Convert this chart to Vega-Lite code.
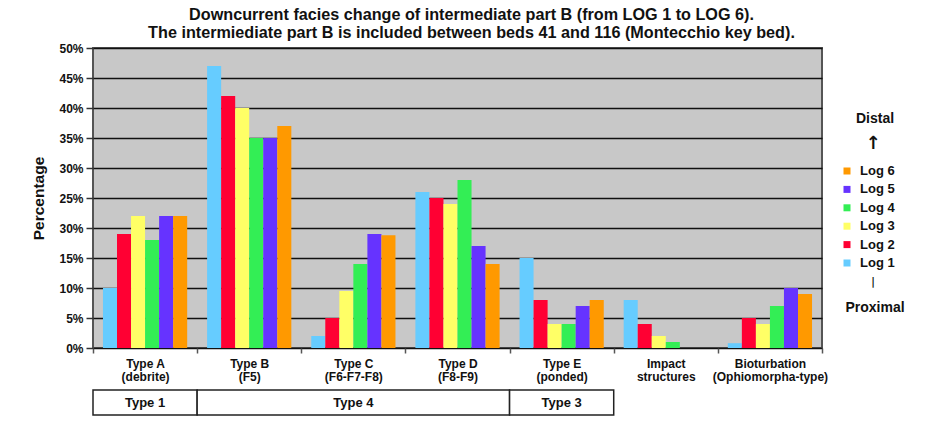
{
  "$schema": "https://vega.github.io/schema/vega-lite/v6.json",
  "padding": {"left": 30, "top": 7, "right": 10, "bottom": 6},
  "background": "white",
  "title": {
    "text": ["Downcurrent facies change of intermediate part B (from LOG 1 to LOG 6).", "The intermiediate part B is included between beds 41 and 116 (Montecchio key bed)."],
    "anchor": "middle",
    "font": "Liberation Sans",
    "fontSize": 16.2,
    "fontWeight": "bold",
    "lineHeight": 17.5,
    "color": "#111111",
    "offset": 0
  },
  "datasets": {
    "bars": [
      {"category": "Type A|(debrite)", "log": "Log 1", "value": 10},
      {"category": "Type A|(debrite)", "log": "Log 2", "value": 19},
      {"category": "Type A|(debrite)", "log": "Log 3", "value": 22},
      {"category": "Type A|(debrite)", "log": "Log 4", "value": 18},
      {"category": "Type A|(debrite)", "log": "Log 5", "value": 22},
      {"category": "Type A|(debrite)", "log": "Log 6", "value": 22},
      {"category": "Type B|(F5)", "log": "Log 1", "value": 47},
      {"category": "Type B|(F5)", "log": "Log 2", "value": 42},
      {"category": "Type B|(F5)", "log": "Log 3", "value": 40},
      {"category": "Type B|(F5)", "log": "Log 4", "value": 35},
      {"category": "Type B|(F5)", "log": "Log 5", "value": 35},
      {"category": "Type B|(F5)", "log": "Log 6", "value": 37},
      {"category": "Type C|(F6-F7-F8)", "log": "Log 1", "value": 2},
      {"category": "Type C|(F6-F7-F8)", "log": "Log 2", "value": 5},
      {"category": "Type C|(F6-F7-F8)", "log": "Log 3", "value": 9.5},
      {"category": "Type C|(F6-F7-F8)", "log": "Log 4", "value": 14},
      {"category": "Type C|(F6-F7-F8)", "log": "Log 5", "value": 19},
      {"category": "Type C|(F6-F7-F8)", "log": "Log 6", "value": 18.8},
      {"category": "Type D|(F8-F9)", "log": "Log 1", "value": 26},
      {"category": "Type D|(F8-F9)", "log": "Log 2", "value": 25},
      {"category": "Type D|(F8-F9)", "log": "Log 3", "value": 24},
      {"category": "Type D|(F8-F9)", "log": "Log 4", "value": 28},
      {"category": "Type D|(F8-F9)", "log": "Log 5", "value": 17},
      {"category": "Type D|(F8-F9)", "log": "Log 6", "value": 14},
      {"category": "Type E|(ponded)", "log": "Log 1", "value": 15},
      {"category": "Type E|(ponded)", "log": "Log 2", "value": 8},
      {"category": "Type E|(ponded)", "log": "Log 3", "value": 4},
      {"category": "Type E|(ponded)", "log": "Log 4", "value": 4},
      {"category": "Type E|(ponded)", "log": "Log 5", "value": 7},
      {"category": "Type E|(ponded)", "log": "Log 6", "value": 8},
      {"category": "Impact|structures", "log": "Log 1", "value": 8},
      {"category": "Impact|structures", "log": "Log 2", "value": 4},
      {"category": "Impact|structures", "log": "Log 3", "value": 2},
      {"category": "Impact|structures", "log": "Log 4", "value": 1},
      {"category": "Impact|structures", "log": "Log 5", "value": 0},
      {"category": "Impact|structures", "log": "Log 6", "value": 0},
      {"category": "Bioturbation|(Ophiomorpha-type)", "log": "Log 1", "value": 0.8},
      {"category": "Bioturbation|(Ophiomorpha-type)", "log": "Log 2", "value": 5},
      {"category": "Bioturbation|(Ophiomorpha-type)", "log": "Log 3", "value": 4},
      {"category": "Bioturbation|(Ophiomorpha-type)", "log": "Log 4", "value": 7},
      {"category": "Bioturbation|(Ophiomorpha-type)", "log": "Log 5", "value": 10},
      {"category": "Bioturbation|(Ophiomorpha-type)", "log": "Log 6", "value": 9}
    ],
    "legend": [
      {"item": "Distal", "kind": "end"},
      {"item": "↑", "kind": "sign"},
      {"item": "Log 6", "kind": "log"},
      {"item": "Log 5", "kind": "log"},
      {"item": "Log 4", "kind": "log"},
      {"item": "Log 3", "kind": "log"},
      {"item": "Log 2", "kind": "log"},
      {"item": "Log 1", "kind": "log"},
      {"item": "|", "kind": "sign"},
      {"item": "Proximal", "kind": "end"}
    ],
    "table": [
      {"label": "Type 1", "start": 0, "end": 1},
      {"label": "Type 4", "start": 1, "end": 4},
      {"label": "Type 3", "start": 4, "end": 5}
    ]
  },
  "columns": 2,
  "bounds": "flush",
  "spacing": {"row": 42, "column": 10},
  "concat": [
    {
      "width": 729,
      "height": 300,
      "view": {"fill": "#C8C8C8", "stroke": "#555555", "strokeWidth": 2},
      "data": {"name": "bars"},
      "mark": {"type": "bar"},
      "encoding": {
        "x": {
          "field": "category", "type": "nominal", "sort": null,
          "scale": {"paddingInner": 0, "paddingOuter": 0},
          "axis": {
            "title": null,
            "labelExpr": "split(datum.label, '|')",
            "labelAngle": 0,
            "tickBand": "extent",
            "labelFontSize": 12,
            "labelFontWeight": "bold",
            "labelColor": "#111111",
            "labelPadding": 5,
            "labelLineHeight": 13,
            "tickSize": 5,
            "tickColor": "#555555",
            "tickWidth": 1.5,
            "domain": false,
            "grid": false
          }
        },
        "xOffset": {
          "field": "log", "type": "nominal", "sort": null,
          "scale": {"paddingInner": 0, "paddingOuter": 0.71}
        },
        "y": {
          "field": "value", "type": "quantitative",
          "scale": {"domain": [0, 50], "nice": false, "zero": true},
          "axis": {
            "title": "Percentage",
            "titleFontSize": 15.5,
            "titleFontWeight": "bold",
            "titleColor": "#111111",
            "titlePadding": 12,
            "values": [0, 5, 10, 15, 20, 25, 30, 35, 40, 45, 50],
            "labelExpr": "datum.value == 20 ? '30%' : datum.value + '%'",
            "labelFontSize": 12,
            "labelFontWeight": "bold",
            "labelColor": "#111111",
            "labelPadding": 3,
            "tickSize": 7,
            "tickColor": "#333333",
            "tickWidth": 1.5,
            "grid": true,
            "gridColor": "#111111",
            "gridWidth": 1.5,
            "domain": false
          }
        },
        "color": {
          "field": "log", "type": "nominal",
          "scale": {
            "domain": ["Log 1", "Log 2", "Log 3", "Log 4", "Log 5", "Log 6"],
            "range": ["#66CCFF", "#FF0033", "#FFFF66", "#33EE55", "#6633FF", "#FF9900"]
          },
          "legend": null
        }
      }
    },
    {
      "width": 80,
      "height": 300,
      "view": {"stroke": null},
      "data": {"name": "legend"},
      "resolve": {"scale": {"y": "independent"}},
      "layer": [
        {
          "transform": [{"filter": "datum.kind == 'log'"}],
          "layer": [
            {
              "mark": {"type": "square", "size": 49, "opacity": 1, "xOffset": -25},
              "encoding": {
                "color": {
                  "field": "item", "type": "nominal",
                  "scale": {
                    "domain": ["Log 1", "Log 2", "Log 3", "Log 4", "Log 5", "Log 6"],
                    "range": ["#66CCFF", "#FF0033", "#FFFF66", "#33EE55", "#6633FF", "#FF9900"]
                  },
                  "legend": null
                }
              }
            },
            {
              "mark": {"type": "text", "align": "left", "baseline": "middle", "dx": -12, "fontSize": 13, "fontWeight": "bold", "color": "#111111"},
              "encoding": {"text": {"field": "item"}}
            }
          ],
          "encoding": {
            "y": {
              "field": "item", "type": "ordinal", "sort": null,
              "scale": {"type": "point", "domain": ["Log 6", "Log 5", "Log 4", "Log 3", "Log 2", "Log 1"], "range": [123, 215], "padding": 0},
              "axis": null
            }
          }
        },
        {
          "transform": [{"filter": "datum.kind == 'end'"}],
          "mark": {"type": "text", "align": "center", "baseline": "middle", "dx": 3, "fontSize": 14, "fontWeight": "bold", "color": "#111111"},
          "encoding": {
            "y": {
              "field": "item", "type": "ordinal", "sort": null,
              "scale": {"type": "point", "domain": ["Distal", "Proximal"], "range": [71, 260], "padding": 0},
              "axis": null
            },
            "text": {"field": "item"}
          }
        },
        {
          "transform": [{"filter": "datum.kind == 'sign'"}],
          "mark": {"type": "text", "align": "center", "baseline": "middle", "dx": 1, "font": "DejaVu Sans", "fontWeight": "bold", "color": "#111111"},
          "encoding": {
            "y": {
              "field": "item", "type": "ordinal", "sort": null,
              "scale": {"type": "point", "domain": ["↑", "|"], "range": [96, 234], "padding": 0},
              "axis": null
            },
            "text": {"field": "item"},
            "size": {
              "field": "item", "type": "nominal",
              "scale": {"domain": ["↑", "|"], "range": [18, 10]},
              "legend": null
            }
          }
        }
      ]
    },
    {
      "width": 729,
      "height": 25,
      "view": {"stroke": null},
      "data": {"name": "table"},
      "layer": [
        {
          "mark": {"type": "rect", "fill": "white", "stroke": "#222222", "strokeWidth": 1.5},
          "encoding": {
            "x": {"field": "start", "type": "quantitative", "scale": {"domain": [0, 7], "nice": false, "zero": false}, "axis": null},
            "x2": {"field": "end"}
          }
        },
        {
          "transform": [{"calculate": "(datum.start + datum.end) / 2", "as": "mid"}],
          "mark": {"type": "text", "align": "center", "baseline": "middle", "fontSize": 13, "fontWeight": "bold", "color": "#111111"},
          "encoding": {
            "x": {"field": "mid", "type": "quantitative", "scale": {"domain": [0, 7], "nice": false, "zero": false}, "axis": null},
            "text": {"field": "label"}
          }
        }
      ]
    }
  ],
  "config": {
    "font": "Liberation Sans",
    "view": {"stroke": null},
    "axis": {"labelFont": "Liberation Sans", "titleFont": "Liberation Sans"},
    "text": {"font": "Liberation Sans"}
  }
}
